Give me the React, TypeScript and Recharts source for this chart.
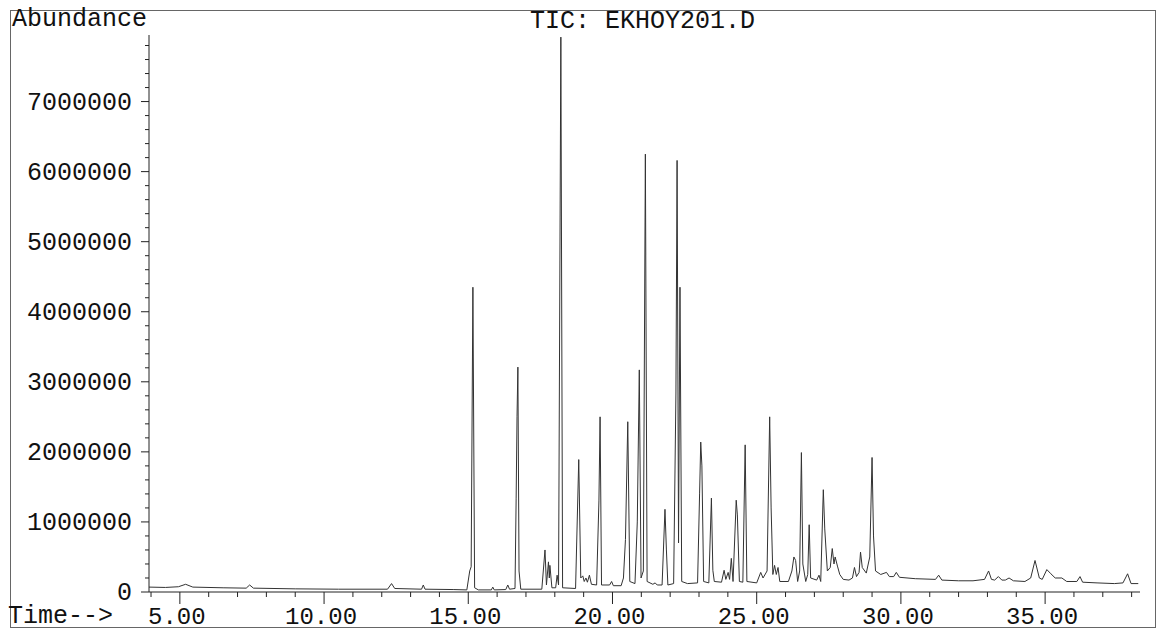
import React from "react";
import { LineChart, Line, XAxis, YAxis } from "recharts";

// Total ion chromatogram, retention time (min) vs abundance
const retentionTimes = [
  3.93, 4.5, 4.95, 5.2, 5.45, 6.5, 7.3, 7.42, 7.55, 9.0, 10.5, 12.2, 12.34, 12.45,
  13.38, 13.44, 13.5, 14.5, 14.95, 15.05, 15.1, 15.16, 15.22, 15.35, 15.8, 15.85, 15.9,
  16.3, 16.37, 16.43, 16.62, 16.66, 16.69, 16.72, 16.76, 16.82,
  17.55, 17.66, 17.71, 17.78, 17.81, 17.83, 17.9, 18.03, 18.08, 18.13, 18.21, 18.27,
  18.72, 18.83, 18.9, 18.97, 19.02, 19.08, 19.13, 19.2, 19.27,
  19.45, 19.53, 19.57, 19.62, 19.9, 19.97, 20.03,
  20.3, 20.38, 20.45, 20.53, 20.6, 20.78, 20.86, 20.93, 20.99, 21.07, 21.14, 21.2,
  21.4, 21.48, 21.55, 21.72, 21.82, 21.87, 21.92,
  22.12, 22.2, 22.24, 22.29, 22.34, 22.4, 22.6, 22.95, 23.02, 23.06, 23.1, 23.16,
  23.34, 23.43, 23.48, 23.53, 23.78, 23.87, 23.93, 24.01, 24.06, 24.12, 24.18,
  24.29, 24.33, 24.4, 24.52, 24.6, 24.66,
  25.0, 25.14, 25.22, 25.36, 25.45, 25.5, 25.56, 25.62, 25.68, 25.74, 25.8,
  26.1, 26.22, 26.29, 26.35, 26.42, 26.49, 26.55, 26.6, 26.7, 26.77, 26.82, 26.87,
  27.08, 27.16, 27.22, 27.31, 27.36, 27.45, 27.55, 27.62, 27.68, 27.72, 27.8, 27.88, 28.0,
  28.2, 28.32, 28.39, 28.46, 28.55, 28.6, 28.66, 28.8, 28.92, 29.0, 29.05, 29.12,
  29.3, 29.5, 29.6, 29.75, 29.84, 29.95,
  30.5, 31.2, 31.31, 31.42, 32.0, 32.5, 32.9, 33.04, 33.14, 33.25, 33.38, 33.5, 33.62,
  33.75, 33.9, 34.3, 34.5, 34.65, 34.8, 34.9, 35.06, 35.2, 35.35, 35.58, 35.75,
  36.1, 36.21, 36.3, 36.8, 37.4, 37.7, 37.86, 37.98, 38.23,
];

const abundance = [
  70000, 65000, 75000, 110000, 70000, 60000, 55000, 100000, 55000, 45000, 40000, 40000, 120000, 50000,
  40000, 100000, 40000, 35000, 30000, 300000, 360000, 4350000, 60000, 30000, 30000, 70000, 30000,
  35000, 100000, 40000, 50000, 1340000, 2500000, 3210000, 300000, 40000,
  40000, 600000, 100000, 430000, 200000, 380000, 60000, 60000, 240000, 100000, 7920000, 60000,
  50000, 1890000, 200000, 230000, 150000, 200000, 140000, 240000, 110000,
  100000, 1300000, 2500000, 100000, 100000, 150000, 90000,
  90000, 200000, 750000, 2430000, 150000, 120000, 1000000, 3170000, 200000, 300000, 6250000, 150000,
  110000, 130000, 100000, 100000, 1180000, 600000, 100000,
  120000, 2840000, 6160000, 700000, 4350000, 150000, 120000, 130000, 1400000, 2140000, 1800000, 150000,
  130000, 1340000, 310000, 150000, 140000, 310000, 180000, 280000, 180000, 480000, 150000,
  1310000, 1100000, 150000, 140000, 2100000, 150000,
  130000, 280000, 200000, 300000, 2500000, 1200000, 250000, 380000, 250000, 350000, 150000,
  150000, 300000, 500000, 450000, 150000, 300000, 1990000, 400000, 150000, 250000, 960000, 200000,
  170000, 240000, 150000, 1460000, 900000, 300000, 350000, 620000, 400000, 500000, 370000, 250000, 180000,
  170000, 200000, 350000, 220000, 280000, 570000, 350000, 270000, 500000, 1920000, 800000, 300000,
  250000, 280000, 220000, 220000, 280000, 210000,
  190000, 180000, 240000, 170000, 160000, 160000, 180000, 300000, 180000, 170000, 220000, 170000, 170000,
  200000, 160000, 150000, 200000, 450000, 200000, 180000, 320000, 260000, 200000, 200000, 150000,
  150000, 220000, 140000, 130000, 120000, 130000, 260000, 120000, 120000,
];

const timeTicks = [
  4, 5, 6, 7, 8, 9, 10, 11, 12, 13, 14, 15, 16, 17, 18, 19, 20, 21,
  22, 23, 24, 25, 26, 27, 28, 29, 30, 31, 32, 33, 34, 35, 36, 37, 38,
];
const abundanceTicks = [
  0, 200000, 400000, 600000, 800000, 1000000, 1200000, 1400000, 1600000, 1800000,
  2000000, 2200000, 2400000, 2600000, 2800000, 3000000, 3200000, 3400000, 3600000,
  3800000, 4000000, 4200000, 4400000, 4600000, 4800000, 5000000, 5200000, 5400000,
  5600000, 5800000, 6000000, 6200000, 6400000, 6600000, 6800000, 7000000, 7200000,
  7400000, 7600000, 7800000,
];

const chartTitle = "TIC: EKHOY201.D";
const yTitle = "Abundance";
const xTitle = "Time-->";

const FONT = "'Liberation Mono', 'DejaVu Sans Mono', monospace";
const INK = "#222";

const data = retentionTimes.map((t, i) => ({ t, a: abundance[i] }));

const TimeTick = (props: any) => {
  const { x, y, payload } = props;
  const v = payload.value as number;
  const major = v % 5 === 0;
  return (
    <g>
      <line x1={x} x2={x} y1={y} y2={y + (major ? 12 : 5)} stroke={INK} strokeWidth={1} />
      {major && (
        <text x={x - 3} y={y + 32} textAnchor="middle" fontFamily={FONT} fontSize={24} fill="#111">
          {v.toFixed(2)}
        </text>
      )}
    </g>
  );
};

const AbundanceTick = (props: any) => {
  const { x, y, payload } = props;
  const v = payload.value as number;
  const major = v % 1000000 === 0;
  return (
    <g>
      <line x1={x - (major ? 8 : 4)} x2={x} y1={y} y2={y} stroke={INK} strokeWidth={1} />
      {major && (
        <text x={x - 17} y={y + 8} textAnchor="end" fontFamily={FONT} fontSize={25} fill="#111">
          {v}
        </text>
      )}
    </g>
  );
};

const textStyle: React.CSSProperties = {
  position: "absolute",
  fontFamily: FONT,
  fontSize: 25,
  color: "#111",
  lineHeight: "26px",
  whiteSpace: "pre",
};

export default function App() {
  return (
    <div style={{ position: "absolute", left: 0, top: 0, width: 1158, height: 635, background: "#fff" }}>
      {/* outer frame */}
      <div
        style={{
          position: "absolute",
          left: 10,
          top: 10,
          width: 1146,
          height: 618,
          border: "1px solid #666",
          boxSizing: "border-box",
        }}
      />
      <LineChart
        width={1158}
        height={635}
        data={data}
        margin={{ top: 35, right: 18, bottom: 0, left: 0 }}
      >
        <XAxis
          dataKey="t"
          type="number"
          domain={[3.93, 38.29]}
          ticks={timeTicks}
          interval={0}
          tickSize={0}
          tickMargin={0}
          tick={<TimeTick />}
          height={43}
          axisLine={{ stroke: INK, strokeWidth: 1 }}
          allowDataOverflow
        />
        <YAxis
          type="number"
          domain={[0, 7950000]}
          ticks={abundanceTicks}
          interval={0}
          tickSize={0}
          tickMargin={0}
          tick={<AbundanceTick />}
          width={149}
          axisLine={{ stroke: INK, strokeWidth: 1 }}
          allowDataOverflow
        />
        <Line
          type="linear"
          dataKey="a"
          stroke="#333"
          strokeWidth={1}
          dot={false}
          isAnimationActive={false}
        />
      </LineChart>
      <div style={{ ...textStyle, left: 12, top: 7 }}>{yTitle}</div>
      <div style={{ ...textStyle, left: 530, top: 9 }}>{chartTitle}</div>
      <div style={{ ...textStyle, left: 8, top: 604 }}>{xTitle}</div>
    </div>
  );
}
